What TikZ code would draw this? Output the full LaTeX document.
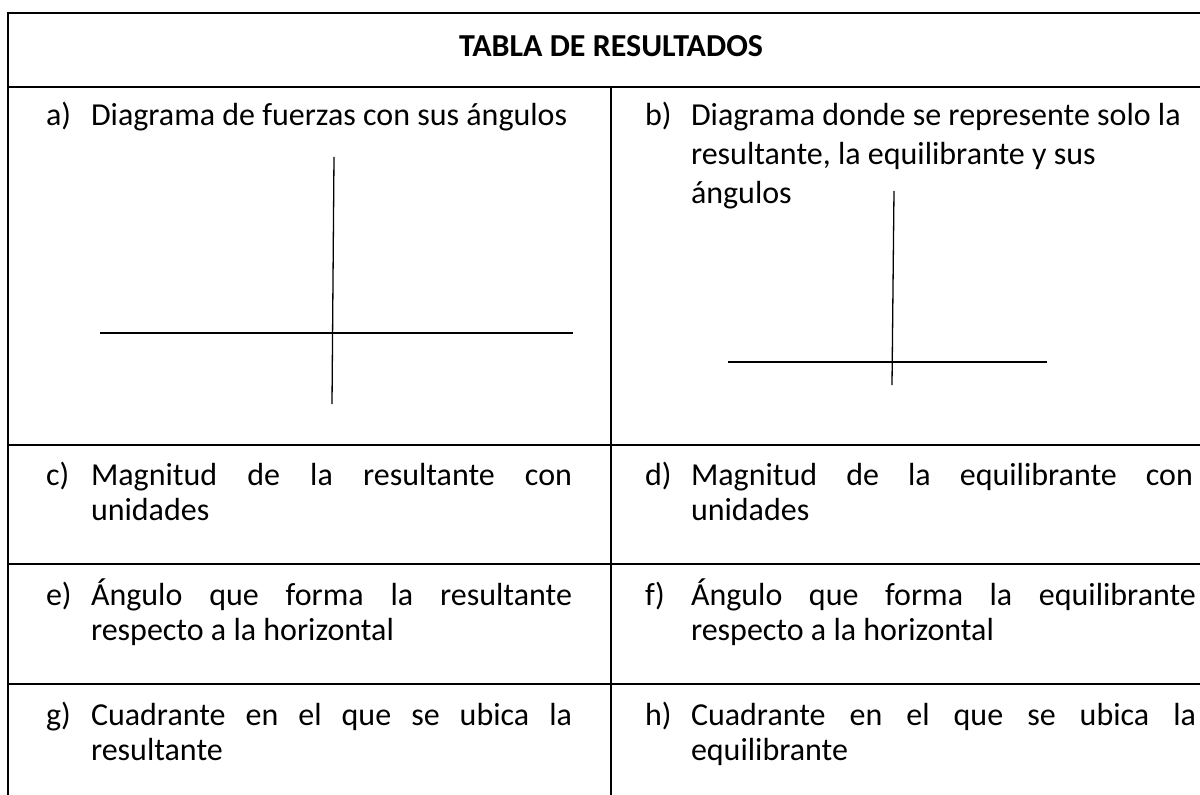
\documentclass[tikz,border=0pt]{standalone}
\usepackage{fontspec}
\setmainfont{Carlito}
\begin{document}
\begin{tikzpicture}[x=1pt,y=-1pt,
  rule/.style={line width=1.7pt,black},
  axis/.style={line width=1.3pt,black},
  txt/.style={anchor=base west,inner sep=0pt,outer sep=0pt,font=\fontsize{32}{39}\selectfont},
  head/.style={anchor=base,inner sep=0pt,font=\fontsize{32}{39}\selectfont\bfseries}]
\useasboundingbox[fill=white] (0,0) rectangle (1200,795);
% table rules
\draw[rule] (8,795) -- (8,13) -- (1200,13);
\draw[rule] (8,87) -- (1200,87);
\draw[rule] (8,445) -- (1200,445);
\draw[rule] (8,564) -- (1200,564);
\draw[rule] (8,684) -- (1200,684);
\draw[rule] (611,87) -- (611,795);
% header
\node[head] (title) at (611,56) {TABLA DE RESULTADOS};
% a)
\node[txt] (la) at (46,125) {a)};
\node[txt] (ta) at (91,125) {Diagrama de fuerzas con sus ángulos};
% b)
\node[txt] (lb) at (645,125) {b)};
\node[txt] (tb1) at (691,125) {Diagrama donde se represente solo la};
\node[txt] (tb2) at (691,164) {resultante, la equilibrante y sus};
\node[txt] (tb3) at (691,203) {ángulos};
% c)
\node[txt] (lc) at (46,485) {c)};
\node[txt] (tc1) at (91,485) {\makebox[481pt][s]{Magnitud de la resultante con}};
\node[txt] (tc2) at (91,520) {unidades};
% d)
\node[txt] (ld) at (645,485) {d)};
\node[txt] (td1) at (691,485) {\makebox[502pt][s]{Magnitud de la equilibrante con}};
\node[txt] (td2) at (691,520) {unidades};
% e)
\node[txt] (le) at (46,605) {e)};
\node[txt] (te1) at (91,605) {\makebox[481pt][s]{Ángulo que forma la resultante}};
\node[txt] (te2) at (91,640) {respecto a la horizontal};
% f)
\node[txt] (lf) at (645,605) {f)};
\node[txt] (tf1) at (691,605) {\makebox[505pt][s]{Ángulo que forma la equilibrante}};
\node[txt] (tf2) at (691,640) {respecto a la horizontal};
% g)
\node[txt] (lg) at (46,725) {g)};
\node[txt] (tg1) at (91,725) {\makebox[481pt][s]{Cuadrante en el que se ubica la}};
\node[txt] (tg2) at (91,760) {resultante};
% h)
\node[txt] (lh) at (645,725) {h)};
\node[txt] (th1) at (691,725) {\makebox[505pt][s]{Cuadrante en el que se ubica la}};
\node[txt] (th2) at (691,760) {equilibrante};
% axes a)
\coordinate (axL) at (100,333);
\coordinate (axR) at (573,333);
\coordinate (ayT) at (334,157);
\coordinate (ayB) at (332,404);
\draw[axis] (axL) -- (axR);
\draw[axis] (ayT) -- (ayB);
% axes b)
\coordinate (bxL) at (728,362);
\coordinate (bxR) at (1047,362);
\coordinate (byT) at (894,191);
\coordinate (byB) at (892,385);
\draw[axis] (bxL) -- (bxR);
\draw[axis] (byT) -- (byB);
\end{tikzpicture}
\end{document}
